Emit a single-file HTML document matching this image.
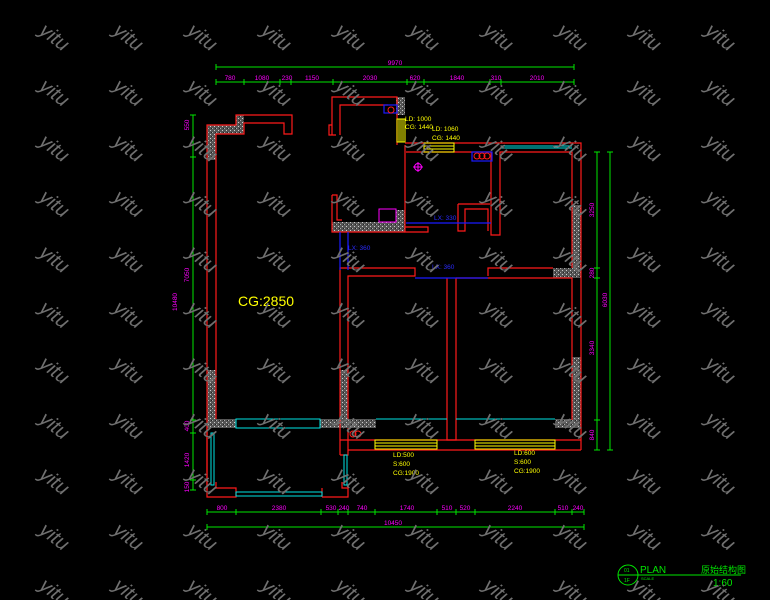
<!DOCTYPE html>
<html><head><meta charset="utf-8"><style>
html,body{margin:0;padding:0;background:#000;width:770px;height:600px;overflow:hidden}
svg{display:block}
text{font-family:"Liberation Sans","Noto Sans CJK SC",sans-serif}
</style></head><body>
<svg width="770" height="600" viewBox="0 0 770 600" xmlns="http://www.w3.org/2000/svg">
<defs>
<pattern id="hatch" width="4" height="4" patternUnits="userSpaceOnUse">
<rect width="4" height="4" fill="#555"/><rect x="0" y="0" width="1" height="1" fill="#aaa"/><rect x="2" y="2" width="1" height="1" fill="#ccc"/><rect x="3" y="0" width="1" height="1" fill="#222"/>
</pattern>
<pattern id="wm" width="74" height="55.5" patternUnits="userSpaceOnUse" x="25" y="24">
<text x="10" y="18" transform="rotate(38 25 18)" font-size="20" font-style="italic" fill="#707070" font-family="Liberation Sans, sans-serif">yitu</text>
</pattern>
</defs>
<rect width="770" height="600" fill="#000"/>

<g fill="url(#hatch)">
<rect x="207" y="125" width="37" height="9"/><rect x="236" y="115" width="8" height="12"/>
<rect x="207" y="125" width="9" height="35"/>
<rect x="207" y="370" width="9" height="58"/>
<rect x="207" y="419" width="29" height="9"/>
<rect x="320" y="419" width="28" height="9"/>
<rect x="340" y="370" width="8" height="58"/>
<rect x="348" y="419" width="28" height="9"/>
<rect x="332" y="222" width="73" height="10"/>
<rect x="396" y="97" width="9" height="18"/>
<rect x="396" y="210" width="9" height="20"/>
<rect x="572" y="205" width="9" height="73"/>
<rect x="553" y="268" width="28" height="10"/>
<rect x="572" y="357" width="9" height="70"/>
<rect x="555" y="419" width="26" height="9"/>
</g>

<g fill="none" stroke="#ff1a1a" stroke-width="1.2">
<polyline points="207,490 207,125 236,125 236,115 292,115 292,134 284,134 284,123 244,123 244,134 216,134 216,419"/>
<polyline points="207,428 207,497 236,497 236,488 216,488 216,482"/>
<polyline points="322,497 348,497 348,488 342,488 342,482"/>
<polyline points="322,488 322,497"/>
<polyline points="332,135 332,97 397,97 397,145"/>
<polyline points="340,135 340,105 388,105"/>
<polyline points="332,125 329,125 329,135 336,135"/>
<polyline points="332,195 332,232 405,232"/>
<polyline points="332,195 337,195 337,220 342,220"/>
<polyline points="405,145 405,232 428,232 428,227 405,227"/>
<polyline points="405,143 581,143 581,450"/>
<polyline points="406,152 491,152 491,235 500,235 500,152 572,152 572,268"/>
<polyline points="458,204 490,204"/>
<polyline points="458,204 458,231 465,231 465,209 488,209 488,231"/>
<polyline points="340,455 340,268 415,268 415,276 348,276 348,420"/>
<polyline points="488,276 488,268 553,268"/>
<polyline points="456,278 572,278 572,420"/>
<polyline points="456,278 456,440 447,440 447,278"/>
<polyline points="340,440 581,440"/>
<polyline points="348,450 581,450"/>
<polyline points="340,455 348,455 348,440"/>
<polyline points="348,428 348,440"/>
</g>

<g fill="none" stroke="#1a1aff" stroke-width="1.2">
<rect x="384" y="105" width="13" height="8"/>
<rect x="472" y="152" width="20" height="9"/>
<polyline points="406,223 491,223"/>
<polyline points="340,232 340,270"/>
<polyline points="348,232 348,270"/>
<polyline points="415,278 488,278"/>
</g>
<g fill="none" stroke="#ff1a1a" stroke-width="1">
<circle cx="391" cy="110" r="3"/>
<circle cx="477" cy="156" r="3"/><circle cx="482" cy="156" r="3"/><circle cx="487" cy="156" r="3"/>
<circle cx="353" cy="434" r="3"/><circle cx="358" cy="434" r="3"/>
</g>
<g fill="none" stroke="#ff00ff" stroke-width="1">
<circle cx="418" cy="167" r="3.5"/><line x1="413" y1="167" x2="423" y2="167"/><line x1="418" y1="162" x2="418" y2="172"/>
<rect x="379" y="209" width="17" height="13"/>
</g>

<g fill="none" stroke="#00e5e5" stroke-width="1">
<rect x="236" y="419" width="84" height="9"/>
<line x1="376" y1="419" x2="447" y2="419"/><line x1="456" y1="419" x2="555" y2="419"/>
<rect x="211" y="433" width="3" height="52"/>
<rect x="344" y="455" width="3" height="30"/>
<rect x="236" y="492" width="86" height="4"/>
<line x1="501" y1="146" x2="572" y2="146"/><line x1="501" y1="148" x2="572" y2="148"/>
</g>

<g fill="none" stroke="#ffff00" stroke-width="1">
<rect x="397" y="119" width="8" height="23"/><line x1="399" y1="119" x2="399" y2="142"/><line x1="401" y1="119" x2="401" y2="142"/><line x1="403" y1="119" x2="403" y2="142"/>
<rect x="424" y="143" width="30" height="9"/><line x1="424" y1="146" x2="454" y2="146"/><line x1="424" y1="149" x2="454" y2="149"/>
<rect x="375" y="440" width="62" height="9"/><line x1="375" y1="443" x2="437" y2="443"/><line x1="375" y1="446" x2="437" y2="446"/>
<rect x="475" y="440" width="80" height="9"/><line x1="475" y1="443" x2="555" y2="443"/><line x1="475" y1="446" x2="555" y2="446"/>
</g>
<g fill="#ffff00" font-size="6.5">
<text x="405" y="121">LD: 1000</text><text x="405" y="129">CG: 1440</text>
<text x="432" y="131">LD: 1060</text><text x="432" y="140">CG: 1440</text>
<text x="393" y="457">LD:500</text><text x="393" y="466">S:600</text><text x="393" y="475">CG:1900</text>
<text x="514" y="455">LD:600</text><text x="514" y="464">S:600</text><text x="514" y="473">CG:1900</text>
<text x="238" y="306" font-size="14" font-family="Liberation Serif, serif">CG:2850</text>
</g>
<g fill="#2a2aff" font-size="6.5">
<text x="434" y="220">LX: 330</text><text x="348" y="250">LX: 360</text><text x="432" y="269">LX: 360</text>
</g>

<g stroke="#00e600" stroke-width="1" fill="none">
<line x1="216" y1="67" x2="574" y2="67"/>
<line x1="216" y1="82" x2="574" y2="82"/>
<line x1="193" y1="115" x2="193" y2="490"/>
<line x1="597" y1="152" x2="597" y2="450"/>
<line x1="610" y1="152" x2="610" y2="450"/>
<line x1="207" y1="512" x2="584" y2="512"/>
<line x1="207" y1="527" x2="584" y2="527"/>
</g>
<g stroke="#00e600" stroke-width="1">
<path d="M216,64v6M574,64v6M216,79v6M244,79v6M280,79v6M291,79v6M333,79v6M407,79v6M424,79v6M490,79v6M501,79v6M574,79v6
M190,115h6M190,157h6M190,420h6M190,433h6M190,480h6M190,490h6
M594,152h6M594,268h6M594,278h6M594,420h6M594,450h6M607,152h6M607,450h6
M207,509v6M236,509v6M321,509v6M338,509v6M348,509v6M375,509v6M437,509v6M456,509v6M475,509v6M555,509v6M572,509v6M584,509v6M207,524v6M584,524v6"/>
</g>
<g fill="#ff00ff" font-size="6.5" text-anchor="middle">
<text x="395" y="65">9970</text>
<text x="230" y="80">780</text><text x="262" y="80">1080</text><text x="287" y="80">230</text><text x="312" y="80">1150</text><text x="370" y="80">2030</text><text x="415" y="80">620</text><text x="457" y="80">1840</text><text x="496" y="80">310</text><text x="537" y="80">2010</text>
<text x="222" y="510">800</text><text x="279" y="510">2380</text><text x="331" y="510">530</text><text x="344" y="510">240</text><text x="362" y="510">740</text><text x="407" y="510">1740</text><text x="447" y="510">510</text><text x="465" y="510">520</text><text x="515" y="510">2240</text><text x="563" y="510">510</text><text x="578" y="510">240</text>
<text x="393" y="525">10450</text>
<text transform="translate(189,125) rotate(-90)">550</text>
<text transform="translate(189,275) rotate(-90)">7050</text>
<text transform="translate(177,302) rotate(-90)">10480</text>
<text transform="translate(189,426) rotate(-90)">400</text>
<text transform="translate(189,460) rotate(-90)">1420</text>
<text transform="translate(189,487) rotate(-90)">150</text>
<text transform="translate(594,210) rotate(-90)">3250</text>
<text transform="translate(594,273) rotate(-90)">280</text>
<text transform="translate(594,348) rotate(-90)">3340</text>
<text transform="translate(594,435) rotate(-90)">840</text>
<text transform="translate(607,300) rotate(-90)">6030</text>
</g>

<g stroke="#00e600" fill="none">
<circle cx="628" cy="575" r="10"/><line x1="618" y1="575" x2="741" y2="575"/>
</g>
<g fill="#00e600">
<text x="624" y="572" font-size="5">01</text><text x="624" y="582" font-size="5">1F</text>
<text x="640" y="573" font-size="10" font-family="Liberation Serif, serif">PLAN</text>
<text x="641" y="580" font-size="4">SCALE</text>
<text x="701" y="573" font-size="9" font-family="Liberation Serif, Noto Serif CJK SC, serif">原始结构图</text>
<text x="713" y="586" font-size="10" font-family="Liberation Serif, serif">1:60</text>
</g>

<rect width="770" height="600" fill="url(#wm)"/>
</svg>
</body></html>
